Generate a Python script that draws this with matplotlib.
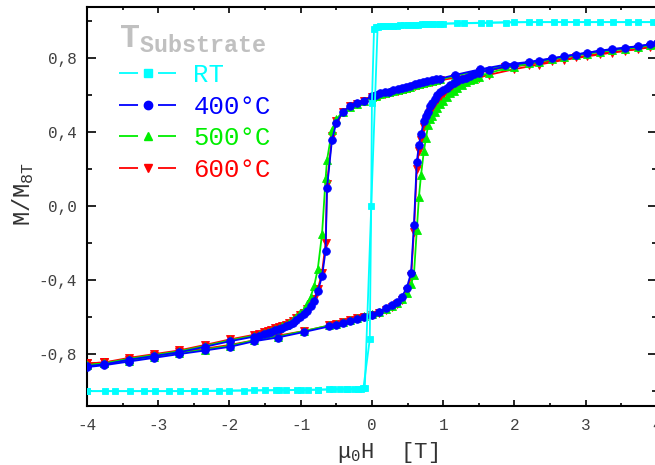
import matplotlib
matplotlib.use("Agg")
import matplotlib.pyplot as plt
from matplotlib.lines import Line2D
from matplotlib.ticker import MultipleLocator, FuncFormatter

plt.rcParams['font.family'] = ['Liberation Mono', 'DejaVu Sans']
plt.rcParams['mathtext.fontset'] = 'custom'
plt.rcParams['mathtext.rm'] = 'Liberation Mono'
plt.rcParams['mathtext.bf'] = 'Liberation Mono:bold'
plt.rcParams['mathtext.it'] = 'Liberation Mono'
plt.rcParams['axes.unicode_minus'] = False
plt.rcParams['lines.scale_dashes'] = False

# ---------------- data ----------------
labels = ['RT', '400°C', '500°C', '600°C']
colors = ['#00ffff', '#0000ff', '#00ee00', '#ff0000']
markers = ['s', 'o', '^', 'v']

# RT loop
rt_h_down = [4.0, 3.95, 3.6, 3.2, 2.87, 2.55, 2.2, 1.88, 1.53, 1.19, 1.0, 0.9, 0.8, 0.7, 0.6,
             0.5, 0.4, 0.3, 0.2, 0.12, 0.06, 0.03, 0.0, -0.01, -0.03, -0.12, -0.2, -0.35,
             -0.55, -0.75, -1.0, -1.3, -1.65, -2.0, -2.35, -2.7, -3.05, -3.4, -3.75, -4.0]
rt_m_down = [0.995, 0.995, 0.995, 0.995, 0.995, 0.995, 0.995, 0.993, 0.99, 0.988, 0.986, 0.985,
             0.984, 0.983, 0.982, 0.98, 0.978, 0.976, 0.974, 0.972, 0.97, 0.96, 0.56, 0.0, -0.72,
             -0.985, -0.987, -0.99, -0.99, -0.992, -0.993, -0.995, -0.995, -0.997, -0.998, -1.0,
             -1.0, -1.0, -1.0, -1.0]
rt_h_up = [-4.0, -3.6, -3.2, -2.85, -2.5, -2.15, -1.8, -1.5, -1.35, -1.2, -1.05, -0.9, -0.75,
           -0.6, -0.45, -0.35, -0.25, -0.15, -0.1, 0.08, 0.15, 0.25, 0.35, 0.45, 0.55, 0.65, 0.75,
           0.85, 0.95, 1.29, 1.64, 1.99, 2.35, 2.69, 3.02, 3.38, 3.74, 4.0]
rt_m_up = [-1.0, -1.0, -1.0, -1.0, -1.0, -0.998, -0.997, -0.996, -0.995, -0.995, -0.994, -0.993,
           -0.992, -0.991, -0.99, -0.99, -0.989, -0.988, -0.985, 0.968, 0.972, 0.974, 0.976, 0.978,
           0.98, 0.982, 0.984, 0.985, 0.987, 0.99, 0.993, 0.995, 0.995, 0.995, 0.995, 0.995,
           0.995, 0.995]

# annealed samples share the field grid of each branch
h_down = [4.0, 3.91, 3.56, 3.2, 2.87, 2.53, 2.2, 1.87, 1.52, 1.17, 0.96, 0.9, 0.84, 0.78, 0.72,
          0.66, 0.6, 0.54, 0.48, 0.42, 0.36, 0.3, 0.24, 0.18, 0.12, 0.06, 0.0, -0.11, -0.21,
          -0.31, -0.41, -0.5, -0.56, -0.63, -0.65, -0.7, -0.76, -0.81, -0.86, -0.91, -0.96,
          -1.01, -1.06, -1.11, -1.16, -1.21, -1.26, -1.31, -1.36, -1.41, -1.46, -1.51, -1.58,
          -1.65, -1.99, -2.34, -2.71, -3.06, -3.41, -3.76, -4.0]
h_up = [-4.0, -3.76, -3.41, -3.06, -2.71, -2.34, -1.99, -1.65, -1.32, -0.95, -0.6, -0.5, -0.41,
        -0.31, -0.21, -0.11, 0.0, 0.1, 0.2, 0.28, 0.35, 0.42, 0.49, 0.55, 0.59, 0.63, 0.66,
        0.69, 0.73, 0.76, 0.79, 0.82, 0.85, 0.88, 0.92, 0.96, 1.0, 1.05, 1.1, 1.15, 1.2, 1.26,
        1.32, 1.38, 1.44, 1.5, 1.64, 1.99, 2.34, 2.69, 3.02, 3.37, 3.74, 4.0]

m400_down = [0.88, 0.875, 0.855, 0.84, 0.82, 0.8, 0.78, 0.765, 0.74, 0.71, 0.69, 0.685, 0.68,
             0.675, 0.67, 0.665, 0.66, 0.65, 0.645, 0.64, 0.635, 0.63, 0.62, 0.615, 0.61, 0.6,
             0.595, 0.57, 0.56, 0.54, 0.51, 0.45, 0.36, 0.1, -0.24, -0.38, -0.46, -0.51, -0.54,
             -0.565, -0.585, -0.6, -0.615, -0.63, -0.64, -0.65, -0.66, -0.665, -0.67, -0.68,
             -0.685, -0.69, -0.7, -0.705, -0.73, -0.76, -0.79, -0.81, -0.83, -0.855, -0.865]
m400_up = [-0.87, -0.86, -0.84, -0.82, -0.8, -0.78, -0.76, -0.73, -0.71, -0.68, -0.65, -0.64,
           -0.63, -0.62, -0.61, -0.6, -0.59, -0.57, -0.55, -0.535, -0.52, -0.49, -0.44, -0.36,
           -0.1, 0.24, 0.33, 0.39, 0.46, 0.49, 0.51, 0.54, 0.56, 0.58, 0.6, 0.615, 0.63, 0.64,
           0.655, 0.665, 0.675, 0.685, 0.695, 0.705, 0.715, 0.72, 0.735, 0.765, 0.785, 0.81,
           0.83, 0.85, 0.865, 0.88]

m500_down = [0.875, 0.87, 0.85, 0.835, 0.815, 0.795, 0.775, 0.76, 0.735, 0.705, 0.685, 0.68,
             0.675, 0.67, 0.665, 0.66, 0.655, 0.645, 0.64, 0.635, 0.63, 0.625, 0.615, 0.61,
             0.605, 0.595, 0.59, 0.57, 0.555, 0.535, 0.51, 0.47, 0.41, 0.25, 0.15, -0.15, -0.34,
             -0.43, -0.49, -0.53, -0.56, -0.58, -0.6, -0.615, -0.63, -0.64, -0.65, -0.66,
             -0.665, -0.675, -0.68, -0.685, -0.695, -0.7, -0.725, -0.755, -0.785, -0.805,
             -0.825, -0.85, -0.86]
m500_up = [-0.86, -0.85, -0.835, -0.815, -0.795, -0.775, -0.755, -0.725, -0.705, -0.675, -0.645,
           -0.635, -0.625, -0.615, -0.605, -0.595, -0.585, -0.57, -0.555, -0.54, -0.525, -0.5,
           -0.47, -0.42, -0.37, -0.13, 0.05, 0.17, 0.3, 0.37, 0.44, 0.47, 0.49, 0.51, 0.53,
           0.55, 0.57, 0.59, 0.61, 0.625, 0.64, 0.655, 0.67, 0.68, 0.69, 0.7, 0.72, 0.755,
           0.78, 0.805, 0.825, 0.845, 0.86, 0.875]

m600_down = [0.865, 0.86, 0.84, 0.825, 0.805, 0.785, 0.765, 0.75, 0.725, 0.695, 0.68, 0.675,
             0.67, 0.665, 0.66, 0.655, 0.65, 0.64, 0.635, 0.63, 0.625, 0.62, 0.61, 0.605, 0.6,
             0.595, 0.59, 0.57, 0.555, 0.54, 0.51, 0.46, 0.38, 0.12, -0.2, -0.36, -0.45, -0.5,
             -0.53, -0.555, -0.575, -0.59, -0.605, -0.62, -0.63, -0.64, -0.65, -0.655, -0.66,
             -0.67, -0.675, -0.68, -0.69, -0.695, -0.72, -0.75, -0.78, -0.8, -0.82, -0.845, -0.85]
m600_up = [-0.85, -0.845, -0.83, -0.81, -0.79, -0.77, -0.75, -0.725, -0.7, -0.675, -0.645,
           -0.635, -0.625, -0.615, -0.605, -0.6, -0.59, -0.575, -0.56, -0.545, -0.53, -0.505,
           -0.46, -0.38, -0.14, 0.2, 0.3, 0.36, 0.43, 0.46, 0.49, 0.51, 0.53, 0.55, 0.57,
           0.585, 0.6, 0.615, 0.63, 0.64, 0.65, 0.66, 0.67, 0.68, 0.69, 0.695, 0.71, 0.74,
           0.765, 0.79, 0.81, 0.83, 0.85, 0.865]

# ---------------- figure ----------------
fig = plt.figure(figsize=(6.55, 4.65), dpi=100)
ax = fig.add_axes([0.1328, 0.127, 0.870, 0.858])

loops = [
    (h_down, m600_down, h_up, m600_up, 3),
    (h_down, m500_down, h_up, m500_up, 2),
    (h_down, m400_down, h_up, m400_up, 1),
    (rt_h_down, rt_m_down, rt_h_up, rt_m_up, 0),
]
for hd, md, hu, mu, i in loops:
    ms = 5 if markers[i] == 's' else 5.5
    for h, m in ((hd, md), (hu, mu)):
        ax.plot(h, m, color=colors[i], marker=markers[i], markersize=ms, lw=1.3,
                markeredgewidth=0.6, zorder=3 + (i == 0))

ax.set_xlim(-4, 4)
ax.set_ylim(-1.08, 1.077)
ax.xaxis.set_major_locator(MultipleLocator(1))
ax.xaxis.set_minor_locator(MultipleLocator(0.5))
ax.yaxis.set_major_locator(MultipleLocator(0.4))
ax.yaxis.set_minor_locator(MultipleLocator(0.2))
ax.xaxis.set_major_formatter(FuncFormatter(lambda v, p: f'{v + 0:.0f}'))
ax.yaxis.set_major_formatter(FuncFormatter(lambda v, p: f'{v + 0:.1f}'.replace('.', ',')))

ax.tick_params(which='both', direction='in', top=True, right=True, width=1.2,
               labelsize=11.5, labelcolor='#404040')
ax.tick_params(axis='x', which='major', length=4.5, pad=9)
ax.tick_params(axis='x', which='minor', length=2.5)
ax.tick_params(axis='y', which='major', length=6.5, pad=7)
ax.tick_params(axis='y', which='minor', length=3.5)
for s in ax.spines.values():
    s.set_linewidth(1.5)

ax.set_xlabel(r'$\mathregular{\mu_0}$H  [T]', fontsize=16, color='#333333')
ax.xaxis.set_label_coords(0.528, -0.085)
ax.set_ylabel(r'M/M$\mathregular{_{8T}}$', fontsize=17, color='#333333')
ax.yaxis.set_label_coords(-0.09, 0.53)

# legend with Origin-style split line handles
handles = [Line2D([], [], color=colors[i], marker=markers[i], markersize=6, lw=1.3,
                  linestyle=(0, (13.7, 14.4))) for i in range(4)]
leg = ax.legend(handles, labels, loc='upper left', bbox_to_anchor=(0.033, 0.99),
                frameon=False, fontsize=18.5, handlelength=2.25, handletextpad=0.66,
                labelspacing=0.3, borderpad=0, numpoints=1,
                title=r'$\mathbf{T}_{\mathbf{Substrate}}$', title_fontsize=24,
                alignment='left')
leg.get_title().set_color('#c0c0c0')
for t, c in zip(leg.get_texts(), colors):
    t.set_color(c)

fig.savefig('out.png', dpi=100)
